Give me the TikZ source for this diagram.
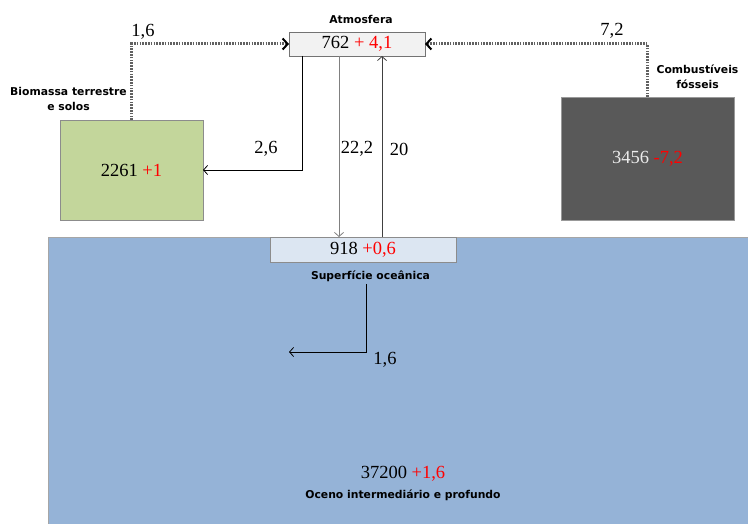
\documentclass[tikz,border=0pt]{standalone}
\usepackage{fontspec}
\setmainfont{Liberation Serif}
\newfontfamily\lblfont{DejaVu Sans}
\usetikzlibrary{positioning, arrows.meta, calc}
\definecolor{oceanfill}{RGB}{149,179,215}
\definecolor{surffill}{RGB}{220,230,242}
\definecolor{atmfill}{RGB}{242,242,242}
\definecolor{biofill}{RGB}{195,214,155}
\definecolor{fosfill}{RGB}{89,89,89}
\definecolor{chgred}{RGB}{255,0,0}
\newcommand{\chg}[1]{\textcolor{chgred}{#1}}
\tikzset{
    pool/.style={
        draw=black!45, line width=0.8pt,
        inner sep=0pt, outer sep=0pt,
        font=\fontsize{18.5}{20}\selectfont
    },
    pool-atm/.style={pool, fill=atmfill, draw=black!55},
    pool-surf/.style={pool, fill=surffill, draw=black!45},
    pool-bio/.style={pool, fill=biofill, draw=black!45},
    pool-fos/.style={pool, fill=fosfill, draw=black!40, text=black!8},
    pool-ocean/.style={pool, fill=oceanfill, draw=black!35},
    plabel/.style={
        font=\lblfont\bfseries\fontsize{10.8}{14.5}\selectfont,
        align=center, inner sep=1pt
    },
    fval/.style={font=\fontsize{18.5}{20}\selectfont, inner sep=1pt},
    flow/.style={
        -{Straight Barb[length=4pt, width=9pt, line width=0.8pt]},
        line width=0.8pt, draw=black
    },
    dotflow/.style={
        -{Straight Barb[length=5pt, width=11pt, line width=2pt, color=black]},
        line width=3pt, draw=black!62,
        dash pattern=on 1.6pt off 1.2pt
    },
}

\begin{document}
\begin{tikzpicture}[x=1pt, y=-1pt]
\useasboundingbox (0,0) rectangle (748,524);

% ---- Pools ----
\node[pool-ocean, minimum width=700pt, minimum height=287pt] (ocean) at (398,380.5) {};
\node[pool-surf, minimum width=186pt, minimum height=25pt] (surf) at (363,249.5) {918 \chg{+0,6}};
\node[pool-atm, minimum width=136pt, minimum height=24pt] (atm) at (357,44) {762 \chg{+ 4,1}};
\node[pool-bio, minimum width=143pt, minimum height=100pt] (bio) at (131.5,170) {2261 \chg{+1}};
\node[pool-fos, minimum width=173pt, minimum height=123pt] (fos) at (647.5,158.5) {3456 \chg{-7,2}};

% ---- Pool names ----
\node[plabel] (atm-lbl) at (361,19) {Atmosfera};
\node[plabel] (bio-lbl) at (68.5,99) {Biomassa terrestre\\e solos};
\node[plabel] (fos-lbl) at (697.5,77) {Combustíveis\\fósseis};
\node[plabel] (surf-lbl) at (370.5,276) {Superfície oceânica};
\node[fval] (deep-val) at (403,474) {37200 \chg{+1,6}};
\node[plabel, below=6pt of deep-val] (deep-lbl) {Oceno intermediário e profundo};

% ---- Fluxes ----
\coordinate (land-top) at ($(atm.south west)+(13,0)$);
\coordinate (dn-top) at ($(atm.south west)+(50,0)$);
\coordinate (up-top) at ($(atm.south west)+(93,0)$);
\coordinate (deep-start) at (366,284);
\coordinate (deep-end) at (289,352);

\draw[dotflow] (bio.north) |- (atm.west);
\draw[dotflow] (fos.north) |- (atm.east);
\draw[flow] (land-top) |- (bio.east);
\draw[flow, draw=black!50] (dn-top) -- (dn-top |- surf.north);
\draw[flow, draw=black!75] (up-top |- surf.north) -- (up-top);
\draw[flow] (deep-start) |- (deep-end);

\node[fval] (f-bio) at (143,32) {1,6};
\node[fval] (f-fos) at (612,31) {7,2};
\node[fval] (f-land) at (266,149) {2,6};
\node[fval] (f-dn) at (357,149) {22,2};
\node[fval] (f-up) at (399,149) {20};
\node[fval] (f-deep) at (385,360) {1,6};

\end{tikzpicture}
\end{document}
